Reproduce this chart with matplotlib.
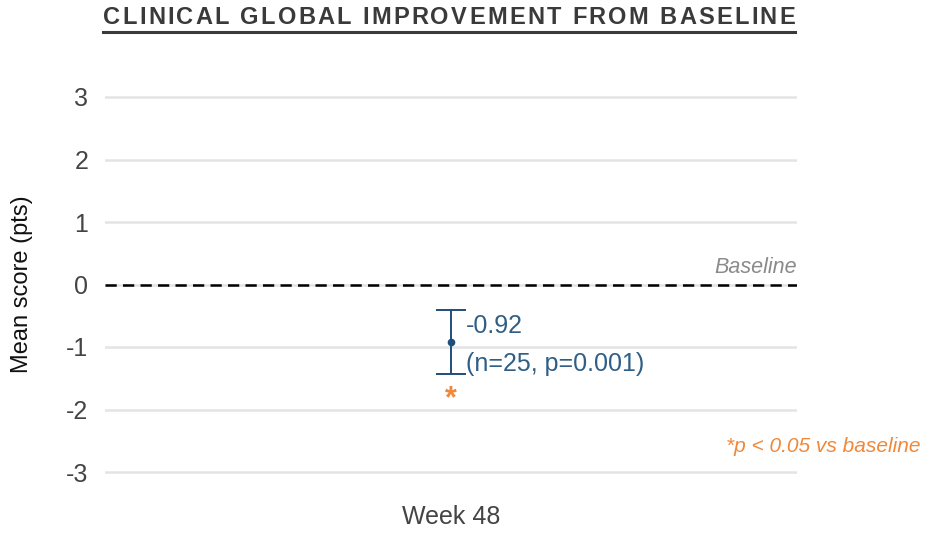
import matplotlib
matplotlib.use("Agg")
import matplotlib.pyplot as plt
from matplotlib.lines import Line2D
from matplotlib.font_manager import FontProperties

plt.rcParams['font.family'] = ['Liberation Sans', 'DejaVu Sans']

# Data
categories = ["Week 48"]
mean_change = [-0.92]
ci_half = [0.505]
n_subjects = [25]
p_values = ["0.001"]
y_ticks = [-3, -2, -1, 0, 1, 2, 3]

title = "CLINICAL GLOBAL IMPROVEMENT FROM BASELINE"
point_color = "#1f4e79"
label_color = "#2f5f86"
orange = "#f0883a"
grid_color = "#e4e4e4"

W, H = 927, 534
fig = plt.figure(figsize=(W / 100, H / 100), dpi=100)
fig.patch.set_facecolor("white")

# axes placed in pixel terms: y=3 at 97px, y=-3 at 472px
left, right = 105, 797
ymin, ymax = -3.2, 3.2
ppu = (472 - 97) / 6.0
top_px = 97 - (ymax - 3) * ppu
bot_px = 472 + (-3 - ymin) * ppu
ax = fig.add_axes([left / W, 1 - bot_px / H, (right - left) / W, (bot_px - top_px) / H])

x = list(range(len(categories)))
ax.set_xlim(-1, 1)
ax.set_ylim(ymin, ymax)

for t in y_ticks:
    ax.axhline(t, color=grid_color, lw=1.8, zorder=0)
ax.axhline(0, color="black", lw=1.8, ls=(0, (4.5, 2.5)), zorder=1)

ax.errorbar(x, mean_change, yerr=ci_half, fmt="o", color=point_color,
            ms=4.5, elinewidth=1.4, capsize=10.5, capthick=1.4, zorder=3)

for xi, m, h, n, p in zip(x, mean_change, ci_half, n_subjects, p_values):
    ax.annotate(f"{m:.2f}", (xi, m + h), xytext=(10.5, -11), textcoords="offset points",
                ha="left", va="center", fontsize=18, color=label_color)
    ax.annotate(f"(n={n}, p={p})", (xi, m - h), xytext=(10.5, 7), textcoords="offset points",
                ha="left", va="center", fontsize=18, color=label_color)
    ax.annotate("*", (xi, m - h), xytext=(0, -8), textcoords="offset points",
                ha="center", va="top", fontsize=22, fontweight="bold", color=orange)

ax.text(1, 0.1, "Baseline", ha="right", va="bottom", fontsize=15.5,
        style="italic", color="#8a8a8a")

ax.set_yticks(y_ticks)
ax.set_yticklabels([str(t) for t in y_ticks])
ax.set_xticks(x)
ax.set_xticklabels(categories)
ax.tick_params(axis="y", length=0, pad=12, labelsize=18, labelcolor="#444444")
ax.tick_params(axis="x", length=0, pad=15, labelsize=18, labelcolor="#444444")
for s in ax.spines.values():
    s.set_visible(False)
ax.set_ylabel("Mean score (pts)", fontsize=17, color="#111111")
ax.yaxis.set_label_coords((22 - left) / (right - left), 0.5)
ax.yaxis.label.set_va("center")

fig.text(920 / W, 1 - 447 / H, "*p < 0.05 vs baseline", ha="right", va="center",
         fontsize=15, style="italic", color=orange)

# Letter-spaced, underlined title
fig.canvas.draw()
renderer = fig.canvas.get_renderer()
t_left, t_right, t_y = 103, 795, 18
fp = FontProperties(family="Liberation Sans", weight="bold", size=17)

def width_px(s):
    if not s:
        return 0.0
    w, _, _ = renderer.get_text_width_height_descent(s, fp, ismath=False)
    return w

full_w = width_px(title)
spacing = (t_right - t_left - full_w) / (len(title) - 1)
for i, ch in enumerate(title):
    xpos = t_left + width_px(title[:i]) + i * spacing
    fig.text(xpos / W, 1 - t_y / H, ch, ha="left", va="center",
             fontproperties=fp, color="#3a3a3a")
fig.add_artist(Line2D([t_left / W, t_right / W], [1 - 32 / H, 1 - 32 / H],
                      transform=fig.transFigure, color="#3a3a3a", lw=2.2))

fig.savefig("out.png", dpi=100)
